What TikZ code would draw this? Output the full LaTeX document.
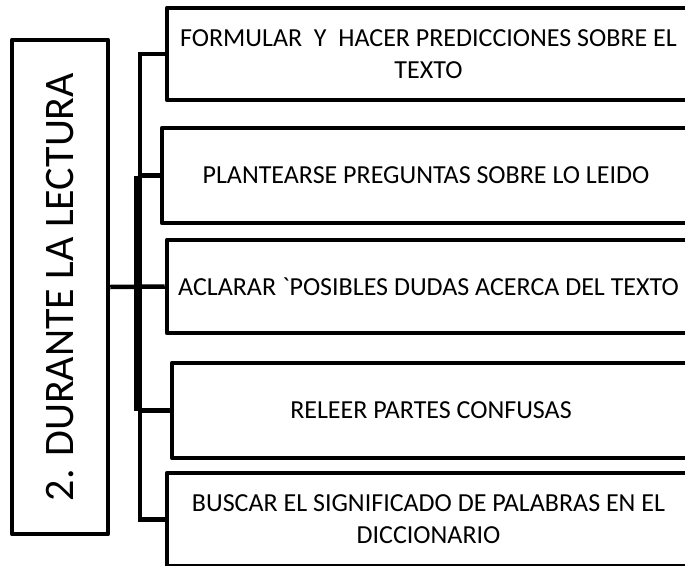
\documentclass[tikz,border=0pt]{standalone}
\usepackage{fontspec}
\setmainfont{Carlito}
\begin{document}
\begin{tikzpicture}[x=1pt,y=-1pt,
  box/.style={draw=black,line width=4.5pt,line join=round,rectangle,inner sep=0pt,
    font=\fontsize{26}{32}\selectfont,align=center},
  link/.style={draw=black,line width=4.5pt}]
\clip (0,0) rectangle (685,565);
\fill[white] (0,0) rectangle (685,565);
% main box
\node[box,minimum width=96pt,minimum height=494pt] (m) at (60,287)
  {\rotatebox{90}{\fontsize{42}{42}\selectfont 2. DURANTE LA LECTURA}};
% right boxes
\node[box,minimum width=523pt,minimum height=92pt] (b1) at (428.5,54)
  {FORMULAR\ \ Y\ \ HACER PREDICCIONES SOBRE EL\\TEXTO};
\node[box,minimum width=528pt,minimum height=95pt] (b2) at (426,175.5)
  {PLANTEARSE PREGUNTAS SOBRE LO LEIDO};
\node[box,minimum width=523pt,minimum height=93pt] (b3) at (428.5,286.5)
  {ACLARAR \textasciigrave POSIBLES DUDAS ACERCA DEL TEXTO};
\node[box,minimum width=518pt,minimum height=95pt] (b4) at (431,410.5)
  {RELEER PARTES CONFUSAS};
\node[box,minimum width=523pt,minimum height=93pt] (b5) at (428.5,519.5)
  {BUSCAR EL SIGNIFICADO DE PALABRAS EN EL\\DICCIONARIO};
% trunk coordinates
\coordinate (t1) at (140,54);
\coordinate (t2) at (140,175.5);
\coordinate (t3) at (140,286.5);
\coordinate (t4) at (140,410.5);
\coordinate (t5) at (140,519.5);
\coordinate (s2) at (136,175.5);
\coordinate (s4) at (136,410.5);
\draw[link,line cap=rect] (t1) -- (t5);
\draw[link] (s2) -- (s4);
\draw[link] (t1) -- (b1.west);
\draw[link] (t2) -- (b2.west);
\draw[link] (m.east) -- (b3.west);
\draw[link] (t4) -- (b4.west);
\draw[link] (t5) -- (b5.west);
\end{tikzpicture}
\end{document}
